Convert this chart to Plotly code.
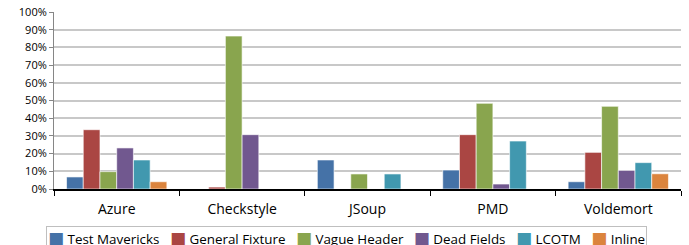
import plotly.graph_objects as go

categories = ["Azure", "Checkstyle", "JSoup", "PMD", "Voldemort"]
series_names = ["Test Mavericks", "General Fixture", "Vague Header", "Dead Fields", "LCOTM", "Inline"]
test_mavericks = [6.8, 0, 16.4, 10.7, 4.1]
general_fixture = [33.5, 1.1, 0, 30.7, 20.7]
vague_header = [9.8, 86.4, 8.5, 48.4, 46.7]
dead_fields = [23.2, 30.7, 0, 2.8, 10.5]
lcotm = [16.4, 0, 8.5, 27.1, 14.9]
inline = [4.1, 0, 0, 0, 8.6]
y_tick_values = [0, 10, 20, 30, 40, 50, 60, 70, 80, 90, 100]
y_tick_labels = ["0%", "10%", "20%", "30%", "40%", "50%", "60%", "70%", "80%", "90%", "100%"]

colors = ["#4572A7", "#AA4643", "#89A54E", "#71588F", "#4198AF", "#DB843D"]
all_series = [test_mavericks, general_fixture, vague_header, dead_fields, lcotm, inline]

font_family = "Open Sans, Liberation Sans, sans-serif"

fig = go.Figure()
for name, vals, col in zip(series_names, all_series, colors):
    fig.add_trace(go.Bar(
        x=categories, y=vals, name=name,
        marker=dict(color=col, line=dict(color="rgba(255,255,255,0.6)", width=1)),
        showlegend=False,
    ))

# legend drawn as a single boxed text line (swatch + label per series)
nb = "\u00a0"
legend_parts = []
for name, col in zip(series_names, colors):
    legend_parts.append(
        f"<span style='color:{col};font-size:17px;font-family:DejaVu Sans'>\u25a0</span>{nb}{name}"
    )
legend_text = (nb * 3).join(legend_parts)

fig.add_annotation(
    text=legend_text, xref="paper", yref="paper",
    x=0.4673, xanchor="center", y=-0.2085, yanchor="top",
    showarrow=False, bordercolor="#BFBFBF", borderwidth=1, borderpad=1,
    font=dict(size=13.4, family=font_family, color="#000000"),
)

fig.update_layout(
    width=689, height=245,
    margin=dict(l=54, r=8, t=12, b=56, autoexpand=False),
    paper_bgcolor="white", plot_bgcolor="white",
    barmode="group", bargap=0.2, bargroupgap=0,
    font=dict(family=font_family, color="#000000"),
    showlegend=False,
)
fig.update_xaxes(
    type="category",
    tickson="boundaries", ticks="outside", ticklen=5, tickcolor="#000000", tickwidth=1,
    showline=True, linecolor="#000000", linewidth=2,
    showgrid=False,
    tickfont=dict(size=14, family=font_family),
    ticklabelstandoff=6,
    fixedrange=True,
)
fig.update_yaxes(
    range=[0, 100], tickvals=y_tick_values, ticktext=y_tick_labels,
    ticks="outside", ticklen=4, tickcolor="#868686",
    showline=True, linecolor="#868686", linewidth=1,
    showgrid=True, gridcolor="#C8C8C8", gridwidth=2,
    zeroline=False,
    tickfont=dict(size=11, family=font_family),
    fixedrange=True,
)

fig.write_html(
    "out.html",
    config={"displayModeBar": False},
    post_script="document.body.style.margin='0';document.body.style.overflow='hidden';",
)
